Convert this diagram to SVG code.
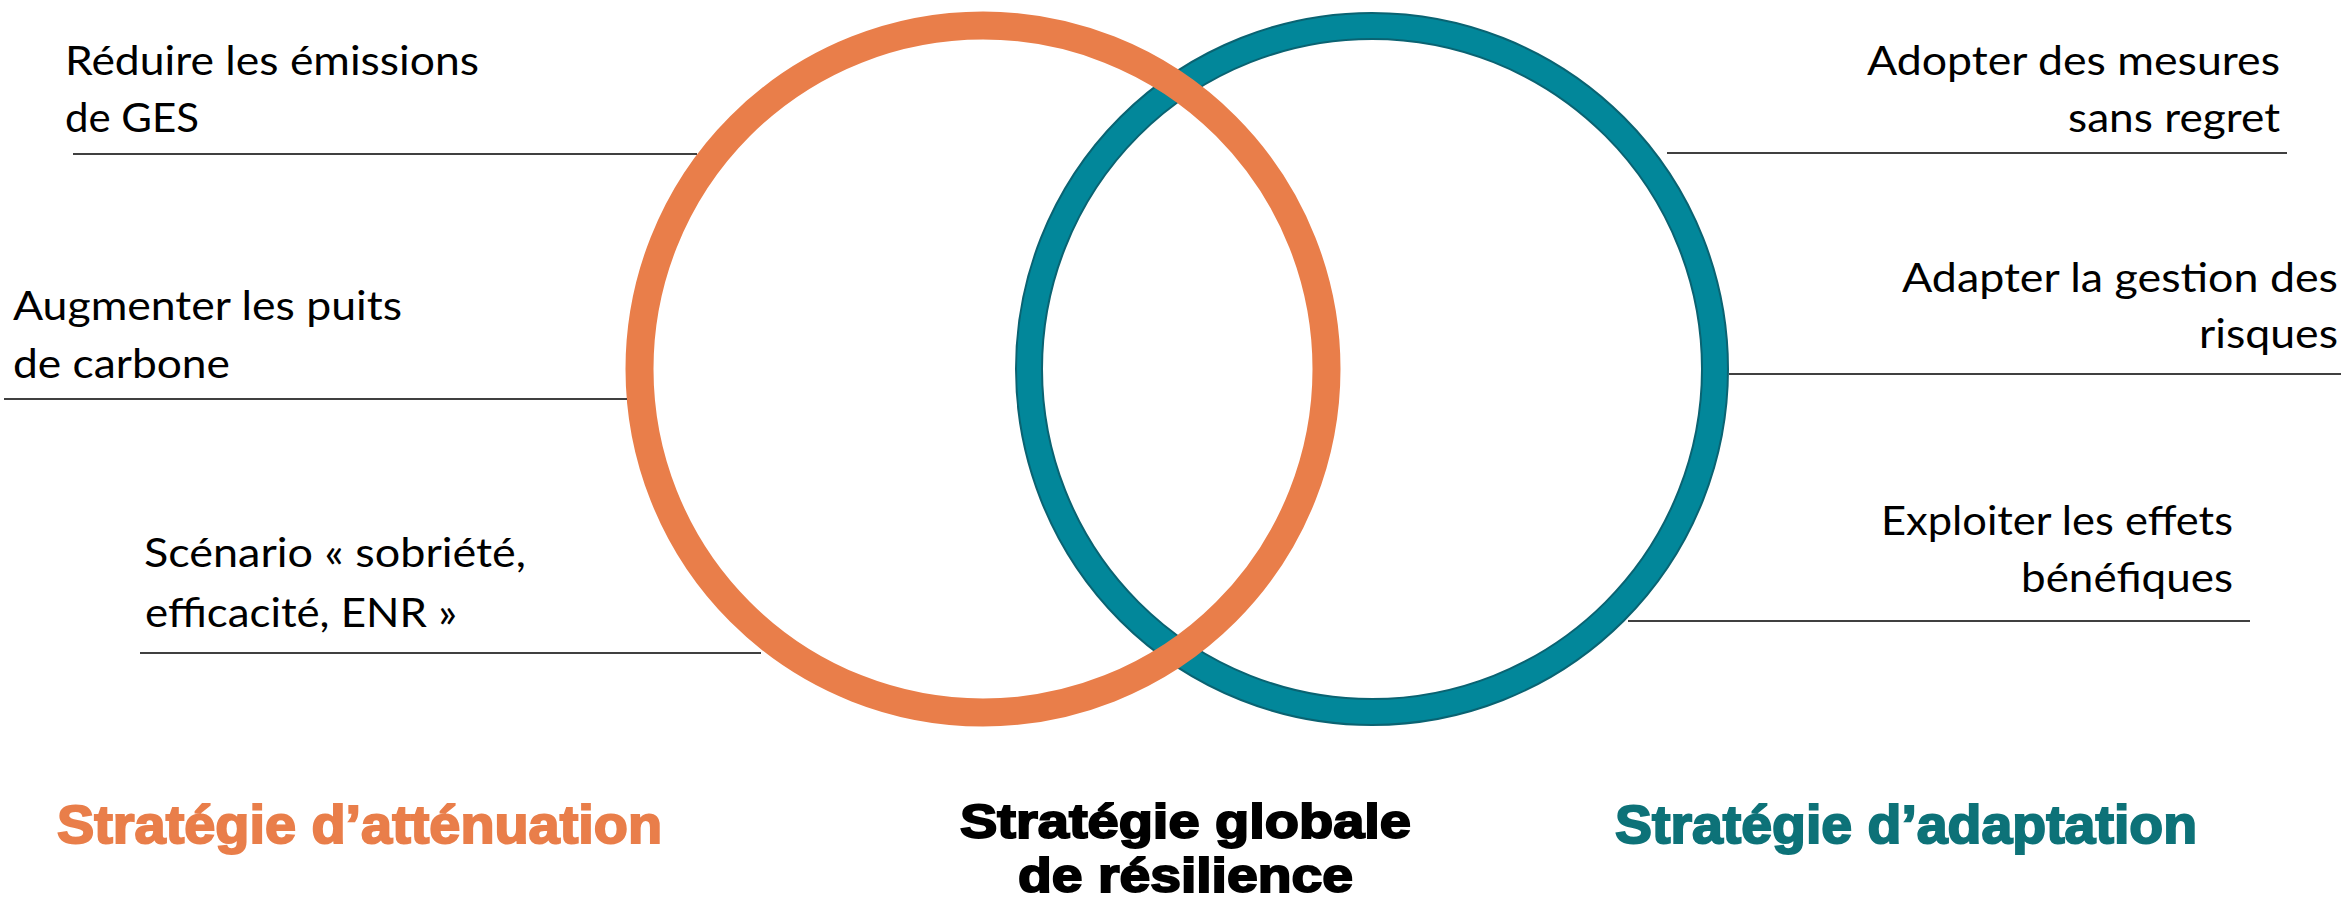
<svg xmlns="http://www.w3.org/2000/svg" width="2341" height="902" viewBox="0 0 2341 902">
<style>
.lbl{font-family:Lato,"Open Sans","Liberation Sans",sans-serif;font-size:41px;fill:#000}
.end{text-anchor:end}
.big{font-family:"Liberation Sans",Arial,sans-serif;font-weight:bold;font-size:54px;stroke-width:2px}
.mid{font-size:49px}
.lead{stroke:#404040;stroke-width:2.2;fill:none}
</style>
<rect width="2341" height="902" fill="#fff"/>
<g id="adaptation-circle">
<circle cx="1372" cy="369" r="343" fill="none" stroke="#0A6372" stroke-width="28"/>
<circle cx="1372" cy="369" r="343" fill="none" stroke="#02879A" stroke-width="24"/>
</g>
<g id="attenuation-circle">
<circle cx="983" cy="369" r="343.5" fill="none" stroke="#E97E4A" stroke-width="28"/>
</g>
<g id="connectors">
<line class="lead" x1="73" y1="154" x2="697" y2="154"/>
<line class="lead" x1="4" y1="399" x2="627" y2="399"/>
<line class="lead" x1="140" y1="653" x2="761" y2="653"/>
<line class="lead" x1="1667" y1="153" x2="2287" y2="153"/>
<line class="lead" x1="1729" y1="374" x2="2341" y2="374"/>
<line class="lead" x1="1628" y1="621" x2="2250" y2="621"/>
</g>
<g id="n-reduire">
<text class="lbl" x="65" y="75" textLength="414" lengthAdjust="spacingAndGlyphs">Réduire les émissions</text>
<text class="lbl" x="65" y="132" textLength="134" lengthAdjust="spacingAndGlyphs">de GES</text>
</g>
<g id="n-puits">
<text class="lbl" x="13" y="320" textLength="389" lengthAdjust="spacingAndGlyphs">Augmenter les puits</text>
<text class="lbl" x="13" y="378" textLength="217" lengthAdjust="spacingAndGlyphs">de carbone</text>
</g>
<g id="n-scenario">
<text class="lbl" x="144" y="567" textLength="382" lengthAdjust="spacingAndGlyphs">Scénario « sobriété,</text>
<text class="lbl" x="145" y="627" textLength="312" lengthAdjust="spacingAndGlyphs">efficacité, ENR »</text>
</g>
<g id="n-sansregret">
<text class="lbl end" x="2280" y="75" textLength="413" lengthAdjust="spacingAndGlyphs">Adopter des mesures</text>
<text class="lbl end" x="2280" y="132" textLength="212" lengthAdjust="spacingAndGlyphs">sans regret</text>
</g>
<g id="n-risques">
<text class="lbl end" x="2338" y="292" textLength="436" lengthAdjust="spacingAndGlyphs">Adapter la gestion des</text>
<text class="lbl end" x="2338" y="348" textLength="139" lengthAdjust="spacingAndGlyphs">risques</text>
</g>
<g id="n-effets">
<text class="lbl end" x="2233" y="535" textLength="352" lengthAdjust="spacingAndGlyphs">Exploiter les effets</text>
<text class="lbl end" x="2233" y="592" textLength="212" lengthAdjust="spacingAndGlyphs">bénéfiques</text>
</g>
<g id="t-attenuation">
<text class="big" x="57" y="843" fill="#E97E4A" stroke="#E97E4A" textLength="605" lengthAdjust="spacingAndGlyphs">Stratégie d’atténuation</text>
</g>
<g id="t-globale">
<text class="big mid" x="960" y="838" fill="#000" stroke="#000" textLength="451" lengthAdjust="spacingAndGlyphs">Stratégie globale</text>
<text class="big mid" x="1018" y="892" fill="#000" stroke="#000" textLength="335" lengthAdjust="spacingAndGlyphs">de résilience</text>
</g>
<g id="t-adaptation">
<text class="big" x="1615" y="843" fill="#0D7278" stroke="#0D7278" textLength="582" lengthAdjust="spacingAndGlyphs">Stratégie d’adaptation</text>
</g>
</svg>
